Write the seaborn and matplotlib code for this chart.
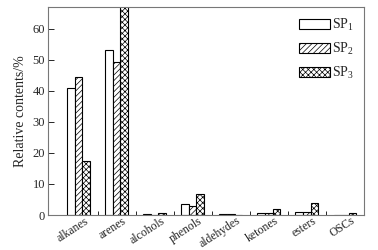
import numpy as np
import pandas as pd
import matplotlib
matplotlib.use('Agg')
import matplotlib.pyplot as plt
import matplotlib.transforms as mtrans
import seaborn as sns

categories = ['alkanes', 'arenes', 'alcohols', 'phenols', 'aldehydes', 'ketones', 'esters', 'OSCs']
sp1 = [41.0, 53.0, 0.3, 3.5, 0.4, 0.5, 1.0, 0.0]
sp2 = [44.5, 49.3, 0.1, 3.0, 0.3, 0.5, 1.0, 0.0]
sp3 = [17.3, 67.5, 0.8, 6.8, 0.1, 1.8, 3.8, 0.6]
series = ['SP$_1$', 'SP$_2$', 'SP$_3$']
hatches = ['', '//////', 'xxxxxx']

sns.set_style('ticks')
plt.rcParams['font.family'] = ['Liberation Serif', 'DejaVu Serif']
plt.rcParams['hatch.linewidth'] = 0.5
plt.rcParams['mathtext.fontset'] = 'custom'
plt.rcParams['mathtext.rm'] = 'Liberation Serif'

df = pd.DataFrame({
    'category': categories * 3,
    'series': np.repeat(series, len(categories)),
    'value': sp1 + sp2 + sp3,
})

fig = plt.figure(figsize=(3.78, 2.5), dpi=100)
ax = fig.add_axes([0.127, 0.14, 0.836, 0.832])

sns.barplot(data=df, x='category', y='value', hue='series', ax=ax,
            palette=['white'] * 3, edgecolor='black', linewidth=0.8,
            width=0.6, saturation=1)

for cont, h in zip(ax.containers, hatches):
    for bar in cont:
        bar.set_hatch(h)

ax.set_ylim(0, 67)
ax.set_xlim(-0.8, len(categories) - 0.5)
ax.set_yticks([0, 10, 20, 30, 40, 50, 60])
ax.set_xlabel('')
ax.set_ylabel('Relative contents/%', fontsize=10, labelpad=4)
ax.tick_params(axis='y', direction='in', length=4, labelsize=9, width=0.7, pad=2)
ax.tick_params(axis='x', which='major', length=0, labelsize=8.5, pad=0)
ax.set_xticks(np.arange(len(categories)) + 0.5, minor=True)
ax.tick_params(axis='x', which='minor', direction='in', length=3, width=0.7)

shift = mtrans.ScaledTranslation(4 / 72, 0, fig.dpi_scale_trans)
for lab in ax.get_xticklabels():
    lab.set_rotation(33)
    lab.set_ha('right')
    lab.set_va('top')
    lab.set_rotation_mode('anchor')
    lab.set_transform(lab.get_transform() + shift)

for s in ax.spines.values():
    s.set_color('#777777')
    s.set_linewidth(0.8)

leg = ax.legend(loc='upper right', frameon=False, fontsize=10,
                handlelength=2.2, handleheight=0.75, labelspacing=0.55,
                borderaxespad=0.5, handletextpad=0.2, borderpad=0.2)
for patch, h in zip(leg.get_patches(), hatches):
    patch.set_hatch(h)
    patch.set_edgecolor('black')

fig.savefig('out.png', dpi=100)
